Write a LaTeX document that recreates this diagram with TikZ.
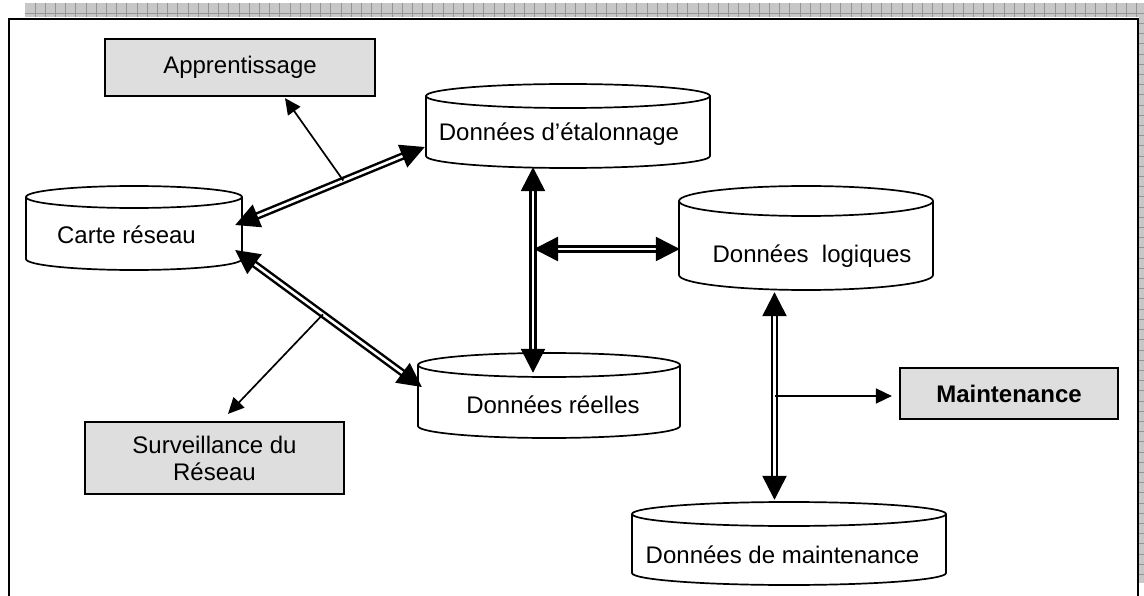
\documentclass[tikz,border=0pt]{standalone}
\usepackage{fontspec}
\setmainfont{Liberation Sans}
\usetikzlibrary{arrows.meta,calc}
% cylinder: name, x1, ytop, x2, ybottom, ellipse half-height
\newcommand\drawcyl[6]{%
  \pgfmathsetmacro\cxa{(#2+#4)/2}%
  \pgfmathsetmacro\cya{(#3+#5)/2}%
  \pgfmathsetmacro\cwa{#4-#2}%
  \pgfmathsetmacro\cha{#5-#3}%
  \pgfmathsetmacro\crx{(#4-#2)/2}%
  \pgfmathsetmacro\ctop{#3+#6}%
  \pgfmathsetmacro\cbot{#5-#6}%
  \node[cylbox, minimum width=\cwa pt, minimum height=\cha pt] (#1) at (\cxa,\cya) {};
  \draw[cylline] (\cxa,\ctop) ellipse [x radius=\crx pt, y radius=#6pt];
  \draw[cylline] (#2,\ctop) -- (#2,\cbot) arc[start angle=180, end angle=360, x radius=\crx pt, y radius=#6pt] -- (#4,\ctop);
}
\begin{document}
\begin{tikzpicture}[x=1pt,y=-1pt,
  lbl/.style={inner sep=0pt, font=\fontsize{24}{27}\selectfont},
  cylbox/.style={draw=none, inner sep=0pt},
  cylline/.style={line width=1.7pt, draw=black},
  gbox/.style={draw=black, line width=2.2pt, fill=black!13, inner sep=0pt, font=\fontsize{24}{27}\selectfont, align=center},
  dbl/.style={draw=black, line width=2.5pt, double=white, double distance=2.6pt, {Triangle[length=24pt,width=24pt]}-{Triangle[length=24pt,width=24pt]}},
  onearrow/.style={draw=black, line width=1.7pt, -{Triangle[length=16pt,width=15pt]}},
  shadowgrid/.style={draw=black!42, line width=0.8pt}
]
\useasboundingbox (0,0) rectangle (1144,596);
\fill[white] (0,0) rectangle (1144,596);
\begin{scope}
  \clip (0,0) rectangle (1144,596);
  \fill[black!22] (25,3) rectangle (1150,17.5);
  \fill[black!22] (1139,3) rectangle (1150,583);
  \foreach \gx in {35,45.2,...,1140} \draw[shadowgrid] (\gx,3) -- (\gx,17.5);
  \draw[shadowgrid] (25,13.3) -- (1150,13.3);
  \foreach \gy in {23.5,33.7,...,583} \draw[shadowgrid] (1139,\gy) -- (1150,\gy);
  \draw[line width=2.2pt] (9,620) -- (9,19) -- (1138,19) -- (1138,620);
\end{scope}

% boxes
\node[gbox, minimum width=270pt, minimum height=57pt] (app) at (240,67.5) {Apprentissage};
\node[gbox, minimum width=259pt, minimum height=72pt] (surv) at (214.5,458) {Surveillance du\\Réseau};
\node[gbox, minimum width=218pt, minimum height=51pt, font=\fontsize{24}{27}\selectfont\bfseries] (mbox) at (1009,393.5) {Maintenance};

% cylinders
\drawcyl{carte}{26}{186}{242}{270}{11}
\drawcyl{etal}{426}{84}{710}{168}{12}
\drawcyl{reel}{418}{353}{680}{438}{12}
\drawcyl{logi}{679}{186}{933}{290}{15}
\drawcyl{mdat}{632}{502}{946}{585}{12}

\node[lbl, anchor=base] (carteT) at (126.5,244) {Carte réseau};
\node[lbl, anchor=base] (etalT) at (559,141) {Données d’étalonnage};
\node[lbl, anchor=base] (reelT) at (553,413) {Données réelles};
\node[lbl, anchor=base] (logiT) at (812,263) {Données\ \ logiques};
\node[lbl, anchor=base] (mdatT) at (782.5,563) {Données de maintenance};

% connectors
\coordinate (c1) at ($(carte.east)+(-7,-3)$);
\coordinate (e1) at ($(etal.west)+(-1,21)$);
\draw[dbl] (c1) -- (e1);
\coordinate (a1) at ($(c1)!0.57!(e1)$);
\draw[onearrow] (a1) -- ($(app.south)+(45,1)$);

\coordinate (c2) at ($(carte.east)+(-7,22)$);
\coordinate (r2) at ($(reel.west)+(4,-8.5)$);
\draw[dbl] (c2) -- (r2);
\coordinate (s2) at ($(c2)!0.47!(r2)$);
\draw[onearrow] (s2) -- ($(surv.north)+(13.5,-7)$);

\coordinate (v1) at ($(etal.south)+(-35,-1)$);
\coordinate (v2) at ($(reel.north)+(-16,20)$);
\draw[dbl] (v1) -- (v2);
\coordinate (h2) at ($(logi.west)+(1,11)$);
\coordinate (h1) at ($(v1 |- h2)+(1,0)$);
\draw[dbl] (h1) -- (h2);

\coordinate (m1) at ($(logi.south)+(-31.5,2)$);
\coordinate (m2) at ($(mdat.north)+(-14.5,-2)$);
\draw[dbl] (m1) -- (m2);
\coordinate (t3) at ($(mbox.west)+(-7,2.5)$);
\draw[onearrow] (m1 |- t3) -- (t3);
\end{tikzpicture}
\end{document}
